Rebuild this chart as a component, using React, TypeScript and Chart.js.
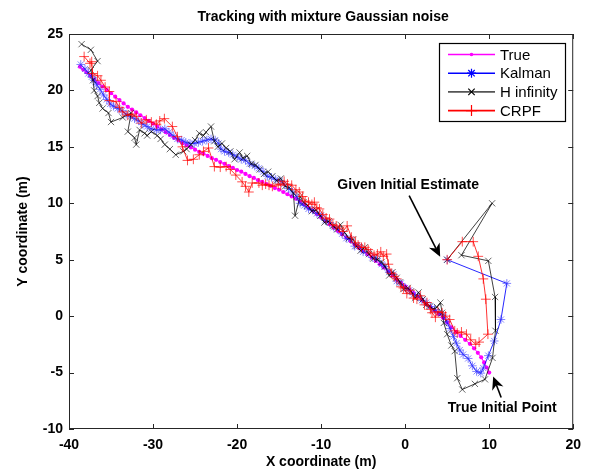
import { useEffect, useRef } from "react";
import { Chart, registerables } from "chart.js";

Chart.register(...registerables);

const FONT = '"Liberation Sans", Arial, Helvetica, sans-serif';

const xTicks = [-40, -30, -20, -10, 0, 10, 20];
const yTicks = [-10, -5, 0, 5, 10, 15, 20, 25];

const seriesNames = ["True", "Kalman", "H infinity", "CRPF"];

// True trajectory, starting at the true initial point
const trueX = [
  10.0, 9.7, 9.4, 9.05, 8.65, 8.2, 7.7, 7.15, 6.6, 6.05, 5.5, 5.0,
  4.5, 4.0, 3.5, 3.0, 2.5, 2.0, 1.5, 1.0, 0.5, 0.0,
  -0.5, -1.0, -1.5, -2.0, -2.5, -3.0, -3.5, -4.0, -4.5, -5.0,
  -5.5, -6.0, -6.5, -7.0, -7.5, -8.0, -8.5, -9.0, -9.5, -10.0,
  -10.5, -11.0, -11.5, -12.0, -12.5, -13.0, -13.5, -14.0, -14.5, -15.0,
  -15.5, -16.0, -16.5, -17.0, -17.5, -18.0, -18.5, -19.0, -19.5, -20.0,
  -20.5, -21.0, -21.5, -22.0, -22.5, -23.0, -23.5, -24.0, -24.5, -25.0,
  -25.5, -26.0, -26.5, -27.0, -27.5, -28.0, -28.5, -29.0, -29.5, -30.0,
  -30.5, -31.0, -31.5, -32.0, -32.5, -33.0, -33.5, -34.0, -34.5, -35.0,
  -35.5, -36.0, -36.5, -37.0, -37.45, -37.9, -38.3, -38.7,
];
const trueY = [
  -5.0, -4.55, -4.1, -3.65, -3.25, -2.85, -2.45, -2.1, -1.75, -1.4, -1.0, -0.55,
  -0.15, 0.2, 0.5, 0.8, 1.1, 1.45, 1.75, 2.05, 2.35, 2.65,
  2.95, 3.25, 3.6, 3.95, 4.3, 4.6, 4.9, 5.2, 5.5, 5.75,
  6.05, 6.35, 6.65, 6.95, 7.25, 7.55, 7.85, 8.15, 8.45, 8.75,
  9.05, 9.35, 9.6, 9.9, 10.15, 10.4, 10.6, 10.8, 11.0, 11.2,
  11.35, 11.55, 11.7, 11.9, 12.05, 12.25, 12.4, 12.6, 12.8, 12.95,
  13.15, 13.3, 13.5, 13.65, 13.85, 14.0, 14.2, 14.4, 14.55, 14.75,
  14.95, 15.15, 15.35, 15.6, 15.8, 16.05, 16.3, 16.55, 16.8, 17.05,
  17.3, 17.55, 17.8, 18.05, 18.3, 18.55, 18.85, 19.15, 19.45, 19.75,
  20.05, 20.35, 20.65, 20.95, 21.3, 21.6, 21.85, 22.1,
];

// Kalman filter estimates (first point is the given initial estimate)
const kalmanX = [
  5.0, 12.1, 11.4, 10.6, 9.9, 9.3, 9.0, 8.5, 8.0, 7.5,
  6.9, 6.5, 6.1, 5.75, 5.35, 4.95, 4.5, 4.0, 3.5, 3.0,
  2.5, 2.0, 1.5, 1.0, 0.5, 0.0, -0.5, -1.0, -1.4, -1.9,
  -2.4, -2.8, -3.4, -3.9, -4.4, -5.0, -5.5, -6.0, -6.5, -7.0,
  -7.5, -8.0, -8.5, -9.0, -9.5, -10.0, -10.5, -11.0, -11.5, -12.0,
  -12.5, -12.9, -13.4, -13.9, -14.4, -14.9, -15.4, -15.9, -16.4, -16.9,
  -17.4, -17.9, -18.5, -19.0, -19.5, -20.0, -20.5, -21.0, -21.5, -21.9,
  -22.2, -22.6, -23.1, -23.6, -24.1, -24.6, -25.1, -25.6, -26.1, -26.6,
  -27.1, -27.6, -28.1, -28.6, -29.1, -29.6, -30.2, -30.7, -31.2, -31.7,
  -32.2, -32.7, -33.2, -33.7, -34.2, -34.7, -35.1, -35.5, -35.9, -36.3,
  -36.7, -37.0, -37.3, -37.7, -38.1, -38.6,
];
const kalmanY = [
  5.0, 2.9, -0.3, -2.2, -3.5, -4.6, -5.05, -4.9, -4.4, -3.75,
  -3.4, -3.0, -2.4, -1.8, -1.1, -0.5, 0.1, 0.3, 0.6, 0.85,
  1.2, 1.4, 1.8, 1.9, 2.3, 2.5, 2.9, 3.1, 3.7, 3.9,
  4.4, 4.6, 5.1, 5.2, 5.6, 5.7, 6.2, 6.2, 6.8, 6.9,
  7.3, 7.7, 7.9, 8.3, 8.5, 8.9, 9.1, 9.4, 9.5, 9.8,
  10.0, 10.6, 11.0, 11.3, 11.7, 12.0, 12.1, 12.3, 12.4, 12.8,
  13.1, 13.3, 13.5, 13.8, 13.9, 14.1, 14.3, 14.5, 14.6, 14.8,
  15.3, 15.6, 15.7, 15.6, 15.5, 15.4, 15.3, 15.3, 15.4, 15.6,
  15.7, 16.0, 16.3, 16.6, 16.5, 16.5, 16.6, 16.8, 17.0, 17.3,
  17.5, 17.7, 17.9, 18.2, 18.4, 18.6, 18.8, 19.2, 19.6, 20.1,
  20.5, 20.9, 21.2, 21.5, 21.9, 22.3,
];

// H infinity filter estimates
const hinfX = [
  5.0, 10.35, 6.7, 9.9, 10.7, 10.75, 10.4, 9.5, 8.3, 6.8,
  6.2, 5.9, 5.5, 5.0, 4.6, 4.4, 4.2, 3.8, 3.3, 2.9,
  2.5, 2.1, 1.6, 1.2, 0.7, 0.3, -0.2, -0.6, -1.0, -1.5,
  -1.9, -2.4, -2.8, -3.3, -3.8, -4.3, -4.8, -5.3, -5.8, -6.2,
  -6.7, -7.2, -7.7, -8.1, -8.6, -9.1, -9.6, -10.1, -10.6, -11.1,
  -11.6, -12.1, -12.5, -13.1, -13.3, -13.8, -14.3, -14.8, -15.3, -15.8,
  -16.3, -16.8, -17.3, -17.8, -18.3, -18.8, -19.3, -19.7, -20.3, -20.8,
  -21.3, -21.8, -22.3, -22.7, -23.1, -23.7, -24.0, -24.5, -25.0, -25.5,
  -26.0, -26.4, -27.3, -28.0, -28.6, -29.1, -29.5, -30.2, -30.7, -31.0,
  -31.6, -32.0, -32.2, -33.0, -32.6, -33.6, -35.0, -35.3, -36.0, -36.4,
  -36.6, -37.0, -37.15, -37.4, -36.6, -37.4, -38.5,
];
const hinfY = [
  5.0, 10.0, 5.4, 4.9, 1.7, -1.3, -3.7, -5.6, -6.0, -6.5,
  -5.5, -3.1, -2.6, -1.6, -0.6, 0.3, 1.2, 0.8, 0.6, 0.9,
  1.0, 1.5, 2.1, 1.6, 2.2, 2.5, 2.4, 3.0, 3.4, 3.9,
  3.6, 4.4, 4.8, 5.0, 5.1, 5.5, 6.1, 5.8, 6.2, 6.8,
  6.9, 7.4, 8.1, 7.7, 8.0, 8.4, 8.3, 8.9, 9.4, 9.3,
  9.8, 10.1, 10.6, 8.9, 10.9, 11.4, 11.5, 12.2, 12.0, 12.4,
  12.8, 12.6, 13.0, 13.4, 13.5, 14.2, 14.0, 14.5, 13.9, 14.6,
  14.9, 15.3, 15.0, 15.5, 16.8, 16.3, 16.0, 16.2, 15.6, 15.2,
  14.8, 14.6, 14.3, 14.8, 15.2, 15.7, 16.0, 16.35, 16.0, 16.2,
  16.5, 15.2, 15.8, 16.35, 18.0, 17.6, 17.2, 18.0, 18.4, 18.9,
  19.5, 20.0, 20.9, 21.8, 22.6, 23.6, 24.1,
];

// CRPF estimates
const crpfX = [
  5.0, 6.8, 8.1, 8.7, 9.3, 9.6, 9.85, 8.8, 8.4, 7.8,
  7.3, 6.7, 6.2, 5.9, 5.3, 4.8, 4.4, 3.9, 3.6, 3.2,
  3.0, 2.6, 2.3, 1.8, 1.4, 1.0, 0.6, 0.2, -0.2, -0.5,
  -1.0, -1.3, -1.6, -2.0, -2.2, -2.6, -2.9, -3.3, -3.7, -4.1,
  -4.4, -4.8, -5.2, -5.6, -5.9, -6.4, -6.9, -7.4, -7.8, -8.2,
  -8.6, -9.0, -9.4, -9.8, -10.2, -10.5, -10.8, -11.1, -11.5, -11.9,
  -12.2, -12.6, -13.0, -13.5, -14.0, -14.4, -14.8, -15.1, -15.8, -16.2,
  -16.6, -17.0, -17.4, -18.2, -18.6, -19.0, -19.4, -20.15, -20.8, -21.3,
  -22.0, -22.7, -23.4, -24.0, -24.5, -25.2, -25.9, -26.5, -27.1, -27.7,
  -28.65, -29.2, -29.6, -30.2, -30.8, -31.4, -32.0, -32.5, -33.0, -33.6,
  -34.0, -34.4, -35.2, -35.2, -35.7, -36.2, -36.6, -37.2, -37.3, -37.5,
  -38.2,
];
const crpfY = [
  5.0, 6.6, 6.6, 5.3, 3.3, 1.5, -1.6, -2.3, -2.5, -2.1,
  -1.6, -1.4, -1.5, -1.3, -0.3, 0.0, 0.3, 0.4, -0.1, 0.3,
  0.6, 1.2, 1.0, 1.8, 1.5, 1.6, 2.3, 2.0, 2.5, 2.6,
  3.3, 3.5, 3.8, 4.6, 5.5, 5.3, 5.7, 5.5, 5.4, 5.6,
  5.9, 6.1, 6.1, 6.3, 6.5, 7.0, 8.0, 7.5, 7.8, 8.0,
  8.1, 8.6, 8.7, 9.0, 9.5, 9.6, 10.1, 9.9, 10.1, 10.2,
  10.6, 11.0, 11.2, 11.6, 11.7, 11.95, 11.6, 11.7, 11.5, 11.6,
  11.7, 11.6, 11.8, 11.8, 11.0, 11.5, 11.9, 12.5, 13.0, 13.25,
  13.2, 13.25, 14.9, 14.6, 14.3, 13.9, 13.8, 15.0, 15.9, 16.8,
  17.5, 17.3, 17.0, 17.2, 17.4, 17.1, 17.7, 17.9, 17.8, 18.1,
  18.5, 19.0, 19.1, 19.9, 20.3, 20.9, 21.3, 21.5, 22.55, 22.4,
  23.0,
];

const toPoints = (xs: number[], ys: number[]) => xs.map((x, i) => ({ x, y: ys[i] }));

type Marker = "dot" | "star" | "x" | "plus";

function drawMarker(ctx: CanvasRenderingContext2D, kind: Marker, x: number, y: number, r: number, color: string) {
  ctx.save();
  ctx.strokeStyle = color;
  ctx.fillStyle = color;
  ctx.lineWidth = 1.2;
  ctx.beginPath();
  if (kind === "dot") {
    ctx.arc(x, y, r, 0, Math.PI * 2);
    ctx.fill();
  } else {
    if (kind === "plus" || kind === "star") {
      ctx.moveTo(x - r, y); ctx.lineTo(x + r, y);
      ctx.moveTo(x, y - r); ctx.lineTo(x, y + r);
    }
    if (kind === "x" || kind === "star") {
      const d = kind === "x" ? r : r * 0.72;
      ctx.moveTo(x - d, y - d); ctx.lineTo(x + d, y + d);
      ctx.moveTo(x - d, y + d); ctx.lineTo(x + d, y - d);
    }
    ctx.stroke();
  }
  ctx.restore();
}

function drawArrow(ctx: CanvasRenderingContext2D, x0: number, y0: number, x1: number, y1: number) {
  const dx = x1 - x0, dy = y1 - y0;
  const len = Math.hypot(dx, dy);
  const ux = dx / len, uy = dy / len;
  const L = 13, W = 6;
  const bx = x1 - ux * L, by = y1 - uy * L;
  const nx = x1 - ux * L * 0.7, ny = y1 - uy * L * 0.7;
  ctx.save();
  ctx.strokeStyle = "#000";
  ctx.fillStyle = "#000";
  ctx.lineWidth = 1.6;
  ctx.beginPath();
  ctx.moveTo(x0, y0);
  ctx.lineTo(nx, ny);
  ctx.stroke();
  ctx.beginPath();
  ctx.moveTo(x1, y1);
  ctx.lineTo(bx - uy * W, by + ux * W);
  ctx.lineTo(nx, ny);
  ctx.lineTo(bx + uy * W, by - ux * W);
  ctx.closePath();
  ctx.fill();
  ctx.restore();
}

const legendItems: { line: string; marker: Marker; color: string; r: number }[] = [
  { line: "#ff00ff", marker: "dot", color: "#ff00ff", r: 1.8 },
  { line: "#0000ff", marker: "star", color: "#0000ff", r: 4.5 },
  { line: "#555555", marker: "x", color: "#000000", r: 3.2 },
  { line: "#ff0000", marker: "plus", color: "#ff0000", r: 5.5 },
];

const decorations = {
  id: "decorations",
  afterDraw(chart: any) {
    const { ctx, chartArea: a, scales } = chart;
    const sx = scales.x, sy = scales.y;
    ctx.save();

    // axes box
    ctx.strokeStyle = "#262626";
    ctx.lineWidth = 1;
    ctx.strokeRect(a.left + 0.5, a.top + 0.5, a.right - a.left - 1, a.bottom - a.top - 1);

    // inward tick marks on all four sides
    ctx.beginPath();
    const tl = 5;
    xTicks.forEach((v) => {
      const px = Math.round(sx.getPixelForValue(v)) + 0.5;
      ctx.moveTo(px, a.bottom); ctx.lineTo(px, a.bottom - tl);
      ctx.moveTo(px, a.top); ctx.lineTo(px, a.top + tl);
    });
    yTicks.forEach((v) => {
      const py = Math.round(sy.getPixelForValue(v)) + 0.5;
      ctx.moveTo(a.left, py); ctx.lineTo(a.left + tl, py);
      ctx.moveTo(a.right, py); ctx.lineTo(a.right - tl, py);
    });
    ctx.stroke();

    // title and axis labels
    ctx.fillStyle = "#000";
    ctx.font = `bold 14px ${FONT}`;
    ctx.textAlign = "center";
    ctx.textBaseline = "middle";
    const cx = (a.left + a.right) / 2;
    ctx.fillText("Tracking with mixture Gaussian noise", cx + 2, 17);
    ctx.fillText("X coordinate (m)", cx, 462);
    ctx.save();
    ctx.translate(23, (a.top + a.bottom) / 2);
    ctx.rotate(-Math.PI / 2);
    ctx.fillText("Y coordinate (m)", 0, 0);
    ctx.restore();

    // annotations
    const gx = sx.getPixelForValue(kalmanX[0]);
    const gy = sy.getPixelForValue(kalmanY[0]);
    ctx.fillText("Given Initial Estimate", gx - 39, gy - 75);
    drawArrow(ctx, gx - 38, gy - 64, gx - 7, gy - 3);

    const tx = sx.getPixelForValue(trueX[0]);
    const ty = sy.getPixelForValue(trueY[0]);
    ctx.fillText("True Initial Point", tx + 13, ty + 36);
    drawArrow(ctx, tx + 12, ty + 25, tx + 4, ty + 4);

    // legend
    const lx = 439.5, ly = 43.5, lw = 126, lh = 78;
    ctx.fillStyle = "#fff";
    ctx.fillRect(lx, ly, lw, lh);
    ctx.strokeStyle = "#000";
    ctx.lineWidth = 1.2;
    ctx.strokeRect(lx, ly, lw, lh);
    ctx.font = `15px ${FONT}`;
    ctx.textAlign = "left";
    legendItems.forEach((it, i) => {
      const rowY = 54.5 + i * 18.7;
      ctx.strokeStyle = it.line;
      ctx.lineWidth = 1.6;
      ctx.beginPath();
      ctx.moveTo(448, rowY);
      ctx.lineTo(495, rowY);
      ctx.stroke();
      drawMarker(ctx, it.marker, 471.5, rowY, it.r, it.color);
      ctx.fillStyle = "#000";
      ctx.fillText(seriesNames[i], 500, rowY + 1);
    });

    ctx.restore();
  },
};

const tickFont = { family: FONT, size: 14, weight: "bold" as const };

export default function App() {
  const ref = useRef<HTMLCanvasElement>(null);

  useEffect(() => {
    if (!ref.current) return;
    const chart = new Chart(ref.current, {
      type: "scatter",
      data: {
        datasets: [
          {
            label: seriesNames[0],
            data: toPoints(trueX, trueY),
            showLine: true,
            borderColor: "#ff00ff",
            borderWidth: 1,
            pointStyle: "circle",
            pointRadius: 2.1,
            pointBackgroundColor: "#ff00ff",
            pointBorderWidth: 0,
            order: 4,
          },
          {
            label: seriesNames[1],
            data: toPoints(kalmanX, kalmanY),
            showLine: true,
            borderColor: "rgba(0,0,255,0.85)",
            borderWidth: 1,
            pointStyle: "star",
            pointRadius: 4.3,
            pointBorderColor: "rgba(50,50,255,0.6)",
            pointBackgroundColor: "rgba(50,50,255,0.6)",
            pointBorderWidth: 1,
            order: 3,
          },
          {
            label: seriesNames[2],
            data: toPoints(hinfX, hinfY),
            showLine: true,
            borderColor: "rgba(0,0,0,0.75)",
            borderWidth: 1,
            pointStyle: "crossRot",
            pointRadius: 4.4,
            pointBorderColor: "rgba(0,0,0,0.6)",
            pointBackgroundColor: "rgba(0,0,0,0.6)",
            pointBorderWidth: 1,
            order: 2,
          },
          {
            label: seriesNames[3],
            data: toPoints(crpfX, crpfY),
            showLine: true,
            borderColor: "rgba(255,0,0,0.8)",
            borderWidth: 1,
            pointStyle: "cross",
            pointRadius: 4.9,
            pointBorderColor: "rgba(255,0,0,0.7)",
            pointBackgroundColor: "rgba(255,0,0,0.7)",
            pointBorderWidth: 1,
            order: 1,
          },
        ],
      },
      options: {
        responsive: false,
        animation: false,
        events: [],
        layout: { padding: { left: 0, top: 34, right: 14, bottom: 0 } },
        elements: { line: { tension: 0 } },
        plugins: {
          legend: { display: false },
          tooltip: { enabled: false },
          title: { display: false },
        },
        scales: {
          x: {
            type: "linear",
            min: -40,
            max: 20,
            afterBuildTicks: (s: any) => {
              s.ticks = xTicks.map((value) => ({ value }));
            },
            afterFit: (s: any) => {
              s.height = 45;
            },
            grid: { display: false, drawTicks: false },
            border: { display: false },
            ticks: { font: tickFont, color: "#000", padding: 8, maxRotation: 0, autoSkip: false },
          },
          y: {
            type: "linear",
            min: -10,
            max: 25,
            afterBuildTicks: (s: any) => {
              s.ticks = yTicks.map((value) => ({ value }));
            },
            afterFit: (s: any) => {
              s.width = 69;
            },
            grid: { display: false, drawTicks: false },
            border: { display: false },
            ticks: { font: tickFont, color: "#000", padding: 6, autoSkip: false },
          },
        },
      },
      plugins: [decorations],
    });
    return () => chart.destroy();
  }, []);

  return (
    <div style={{ position: "fixed", left: 0, top: 0, width: 589, height: 474, background: "#fff" }}>
      <canvas ref={ref} width={589} height={474} style={{ display: "block", width: 589, height: 474 }} />
    </div>
  );
}
